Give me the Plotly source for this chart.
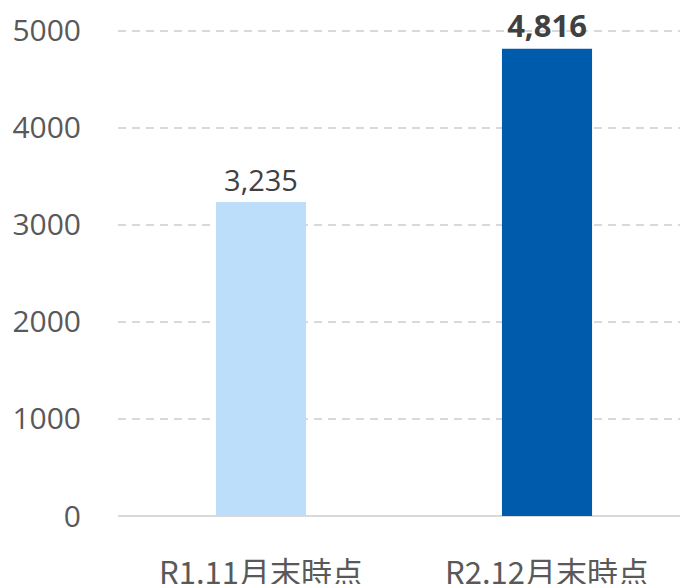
import plotly.graph_objects as go

categories = ["R1.11月末時点", "R2.12月末時点"]
values = [3235, 4816]
y_ticks = [0, 1000, 2000, 3000, 4000, 5000]

bar_colors = ["#BDDEFB", "#005BAC"]
bold_flags = [False, True]

labels = [(f"<b>{v:,}</b>" if b else f"{v:,}") for v, b in zip(values, bold_flags)]

fig = go.Figure(
    go.Bar(
        x=categories,
        y=values,
        marker=dict(color=bar_colors, line=dict(width=0)),
        text=labels,
        textposition="outside",
        textfont=dict(family="Open Sans, Noto Sans CJK JP", size=[29, 31], color="#404040"),
        cliponaxis=False,
        hoverinfo="skip",
    )
)

fig.update_layout(
    width=680,
    height=584,
    margin=dict(l=118, r=0, t=26, b=68, autoexpand=False),
    paper_bgcolor="white",
    plot_bgcolor="white",
    bargap=0.685,
    showlegend=False,
    font=dict(family="Open Sans, Noto Sans CJK JP", color="#595959"),
)

fig.update_xaxes(
    range=[-0.5, 1.465],
    automargin=False,
    showgrid=False,
    showline=False,
    ticks="outside",
    ticklen=30,
    tickcolor="rgba(0,0,0,0)",
    tickfont=dict(family="Noto Sans CJK JP", size=31, color="#595959"),
    zeroline=False,
)

fig.update_yaxes(
    range=[0, 5050],
    automargin=False,
    tickvals=y_ticks,
    ticktext=[str(t) for t in y_ticks],
    showgrid=True,
    gridcolor="#D9D9D9",
    gridwidth=1.5,
    griddash="8px,6px",
    zeroline=True,
    zerolinecolor="#D9D9D9",
    zerolinewidth=2,
    showline=False,
    ticks="outside",
    ticklen=30,
    tickcolor="rgba(0,0,0,0)",
    tickfont=dict(family="Open Sans", size=30, color="#595959"),
)

fig.write_html(
    "out.html",
    config={"displayModeBar": False, "staticPlot": True},
    post_script="document.body.style.margin='0';document.body.style.overflow='hidden';",
)
